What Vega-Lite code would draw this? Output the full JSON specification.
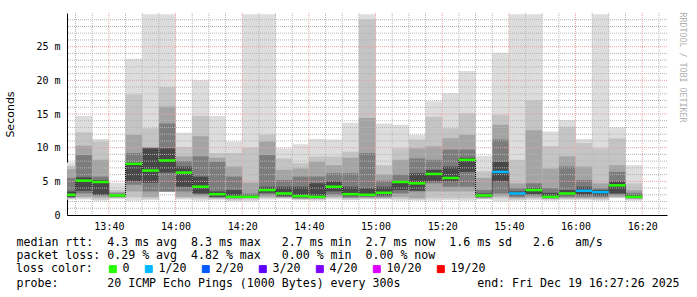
{
  "$schema": "https://vega.github.io/schema/vega-lite/v6.json",
  "width": 600,
  "height": 202,
  "autosize": {"type": "none"},
  "padding": {"left": 67, "top": 13, "right": 30, "bottom": 82},
  "background": "white",
  "config": {"view": {"stroke": null}},
  "title": {"text": "RRDTOOL / TOBI OETIKER", "orient": "right", "anchor": "start", "font": "DejaVu Sans Mono", "fontSize": 8.3, "fontWeight": "normal", "color": "#b0b0b0", "offset": 0},
  "datasets": {
    "smoke": [
      {"t": "2025-12-19T13:27:26", "e": "2025-12-19T13:30:00", "mn": 2.3, "mx": 7.8, "a1": 2.4, "b1": 7.3, "a2": 2.5, "b2": 6.8, "a3": 2.6, "b3": 5.5, "a4": 2.7, "b4": 3.5, "md": 3.0, "loss": "0"},
      {"t": "2025-12-19T13:30:00", "e": "2025-12-19T13:35:00", "mn": 2.3, "mx": 14.7, "a1": 2.5, "b1": 12.3, "a2": 2.7, "b2": 10.3, "a3": 3.2, "b3": 8.9, "a4": 3.6, "b4": 5.6, "md": 5.1, "loss": "0"},
      {"t": "2025-12-19T13:35:00", "e": "2025-12-19T13:40:00", "mn": 2.1, "mx": 11.3, "a1": 2.3, "b1": 10.9, "a2": 2.6, "b2": 8.2, "a3": 2.9, "b3": 5.7, "a4": 3.0, "b4": 5.2, "md": 4.9, "loss": "0"},
      {"t": "2025-12-19T13:40:00", "e": "2025-12-19T13:45:00", "mn": 2.4, "mx": 4.8, "a1": 2.5, "b1": 3.7, "a2": 2.6, "b2": 3.4, "a3": 2.7, "b3": 3.2, "a4": 2.75, "b4": 3.0, "md": 2.9, "loss": "0"},
      {"t": "2025-12-19T13:45:00", "e": "2025-12-19T13:50:00", "mn": 2.1, "mx": 23.2, "a1": 2.6, "b1": 17.9, "a2": 3.5, "b2": 11.9, "a3": 4.5, "b3": 9.2, "a4": 5.0, "b4": 7.8, "md": 7.6, "loss": "0"},
      {"t": "2025-12-19T13:50:00", "e": "2025-12-19T13:55:00", "mn": 2.2, "mx": 29.8, "a1": 2.4, "b1": 12.9, "a2": 2.7, "b2": 10.1, "a3": 3.5, "b3": 10.0, "a4": 4.8, "b4": 9.9, "md": 6.6, "loss": "0"},
      {"t": "2025-12-19T13:55:00", "e": "2025-12-19T14:00:00", "mn": 3.4, "mx": 29.8, "a1": 3.4, "b1": 19.0, "a2": 3.5, "b2": 16.1, "a3": 3.5, "b3": 13.6, "a4": 6.3, "b4": 9.9, "md": 8.1, "loss": "0"},
      {"t": "2025-12-19T14:00:00", "e": "2025-12-19T14:05:00", "mn": 2.3, "mx": 12.2, "a1": 2.5, "b1": 10.1, "a2": 2.7, "b2": 8.7, "a3": 3.5, "b3": 8.0, "a4": 4.2, "b4": 7.2, "md": 6.3, "loss": "0"},
      {"t": "2025-12-19T14:05:00", "e": "2025-12-19T14:10:00", "mn": 2.1, "mx": 20.0, "a1": 2.4, "b1": 14.7, "a2": 2.7, "b2": 11.7, "a3": 3.0, "b3": 8.7, "a4": 3.2, "b4": 5.7, "md": 4.2, "loss": "0"},
      {"t": "2025-12-19T14:10:00", "e": "2025-12-19T14:15:00", "mn": 2.2, "mx": 14.7, "a1": 2.4, "b1": 9.2, "a2": 2.5, "b2": 8.5, "a3": 2.6, "b3": 7.9, "a4": 2.7, "b4": 3.5, "md": 3.1, "loss": "0"},
      {"t": "2025-12-19T14:15:00", "e": "2025-12-19T14:20:00", "mn": 2.0, "mx": 10.9, "a1": 2.2, "b1": 9.2, "a2": 2.4, "b2": 7.2, "a3": 2.5, "b3": 5.7, "a4": 2.6, "b4": 3.7, "md": 2.7, "loss": "0"},
      {"t": "2025-12-19T14:20:00", "e": "2025-12-19T14:25:00", "mn": 2.0, "mx": 29.8, "a1": 2.3, "b1": 10.0, "a2": 2.5, "b2": 4.8, "a3": 2.6, "b3": 3.2, "a4": 2.65, "b4": 2.9, "md": 2.7, "loss": "0"},
      {"t": "2025-12-19T14:25:00", "e": "2025-12-19T14:30:00", "mn": 2.3, "mx": 29.8, "a1": 2.5, "b1": 11.9, "a2": 2.7, "b2": 10.9, "a3": 3.0, "b3": 8.9, "a4": 3.3, "b4": 4.2, "md": 3.7, "loss": "0"},
      {"t": "2025-12-19T14:30:00", "e": "2025-12-19T14:35:00", "mn": 2.4, "mx": 9.9, "a1": 2.5, "b1": 8.4, "a2": 2.6, "b2": 6.7, "a3": 2.7, "b3": 5.2, "a4": 2.8, "b4": 4.2, "md": 3.2, "loss": "0"},
      {"t": "2025-12-19T14:35:00", "e": "2025-12-19T14:40:00", "mn": 2.2, "mx": 10.5, "a1": 2.3, "b1": 7.7, "a2": 2.4, "b2": 6.9, "a3": 2.5, "b3": 5.7, "a4": 2.6, "b4": 4.2, "md": 2.8, "loss": "0"},
      {"t": "2025-12-19T14:40:00", "e": "2025-12-19T14:45:00", "mn": 2.1, "mx": 11.3, "a1": 2.3, "b1": 8.7, "a2": 2.4, "b2": 7.9, "a3": 2.5, "b3": 5.7, "a4": 2.6, "b4": 4.7, "md": 2.7, "loss": "0"},
      {"t": "2025-12-19T14:45:00", "e": "2025-12-19T14:50:00", "mn": 2.3, "mx": 11.2, "a1": 2.5, "b1": 8.7, "a2": 2.7, "b2": 7.4, "a3": 3.0, "b3": 6.2, "a4": 3.5, "b4": 5.0, "md": 4.2, "loss": "0"},
      {"t": "2025-12-19T14:50:00", "e": "2025-12-19T14:55:00", "mn": 2.2, "mx": 13.7, "a1": 2.3, "b1": 9.4, "a2": 2.5, "b2": 8.5, "a3": 2.6, "b3": 6.2, "a4": 2.8, "b4": 4.2, "md": 3.1, "loss": "0"},
      {"t": "2025-12-19T14:55:00", "e": "2025-12-19T15:00:00", "mn": 2.3, "mx": 29.8, "a1": 2.4, "b1": 29.0, "a2": 2.5, "b2": 14.4, "a3": 2.7, "b3": 9.2, "a4": 2.8, "b4": 4.0, "md": 3.0, "loss": "0"},
      {"t": "2025-12-19T15:00:00", "e": "2025-12-19T15:05:00", "mn": 2.3, "mx": 13.6, "a1": 2.4, "b1": 7.4, "a2": 2.5, "b2": 6.0, "a3": 2.7, "b3": 5.1, "a4": 2.9, "b4": 4.2, "md": 3.3, "loss": "0"},
      {"t": "2025-12-19T15:05:00", "e": "2025-12-19T15:10:00", "mn": 2.1, "mx": 13.4, "a1": 2.4, "b1": 9.9, "a2": 2.7, "b2": 8.2, "a3": 3.2, "b3": 6.0, "a4": 3.7, "b4": 5.0, "md": 4.9, "loss": "0"},
      {"t": "2025-12-19T15:10:00", "e": "2025-12-19T15:15:00", "mn": 2.1, "mx": 11.9, "a1": 2.3, "b1": 11.2, "a2": 2.5, "b2": 9.9, "a3": 3.5, "b3": 8.4, "a4": 3.6, "b4": 6.2, "md": 4.7, "loss": "0"},
      {"t": "2025-12-19T15:15:00", "e": "2025-12-19T15:20:00", "mn": 2.1, "mx": 16.9, "a1": 2.5, "b1": 14.6, "a2": 3.5, "b2": 10.2, "a3": 4.7, "b3": 8.2, "a4": 5.0, "b4": 6.7, "md": 6.1, "loss": "0"},
      {"t": "2025-12-19T15:20:00", "e": "2025-12-19T15:25:00", "mn": 2.2, "mx": 18.1, "a1": 2.5, "b1": 12.9, "a2": 3.5, "b2": 11.4, "a3": 4.2, "b3": 9.7, "a4": 5.0, "b4": 7.2, "md": 5.5, "loss": "0"},
      {"t": "2025-12-19T15:25:00", "e": "2025-12-19T15:30:00", "mn": 2.1, "mx": 21.4, "a1": 2.5, "b1": 15.1, "a2": 3.5, "b2": 11.9, "a3": 4.2, "b3": 9.7, "a4": 6.4, "b4": 8.5, "md": 8.2, "loss": "0"},
      {"t": "2025-12-19T15:30:00", "e": "2025-12-19T15:35:00", "mn": 2.3, "mx": 8.8, "a1": 2.4, "b1": 6.5, "a2": 2.5, "b2": 5.5, "a3": 2.6, "b3": 3.7, "a4": 2.7, "b4": 3.2, "md": 2.9, "loss": "0"},
      {"t": "2025-12-19T15:35:00", "e": "2025-12-19T15:40:00", "mn": 2.0, "mx": 24.1, "a1": 2.5, "b1": 14.9, "a2": 2.8, "b2": 13.4, "a3": 3.2, "b3": 11.2, "a4": 5.0, "b4": 7.9, "md": 6.4, "loss": "1/20"},
      {"t": "2025-12-19T15:40:00", "e": "2025-12-19T15:45:00", "mn": 2.1, "mx": 29.8, "a1": 2.3, "b1": 8.2, "a2": 2.5, "b2": 4.7, "a3": 2.7, "b3": 4.0, "a4": 2.9, "b4": 3.5, "md": 3.2, "loss": "1/20"},
      {"t": "2025-12-19T15:45:00", "e": "2025-12-19T15:50:00", "mn": 2.2, "mx": 29.8, "a1": 2.4, "b1": 17.0, "a2": 2.6, "b2": 12.6, "a3": 2.9, "b3": 4.7, "a4": 3.1, "b4": 4.0, "md": 3.7, "loss": "0"},
      {"t": "2025-12-19T15:50:00", "e": "2025-12-19T15:55:00", "mn": 2.1, "mx": 12.4, "a1": 2.3, "b1": 10.2, "a2": 2.4, "b2": 6.9, "a3": 2.5, "b3": 4.0, "a4": 2.6, "b4": 3.3, "md": 2.7, "loss": "0"},
      {"t": "2025-12-19T15:55:00", "e": "2025-12-19T16:00:00", "mn": 2.2, "mx": 14.1, "a1": 2.4, "b1": 13.1, "a2": 2.5, "b2": 8.7, "a3": 2.7, "b3": 7.2, "a4": 2.9, "b4": 3.7, "md": 3.2, "loss": "0"},
      {"t": "2025-12-19T16:00:00", "e": "2025-12-19T16:05:00", "mn": 2.2, "mx": 11.3, "a1": 2.4, "b1": 10.7, "a2": 2.5, "b2": 7.2, "a3": 2.7, "b3": 5.2, "a4": 3.0, "b4": 4.2, "md": 3.6, "loss": "1/20"},
      {"t": "2025-12-19T16:05:00", "e": "2025-12-19T16:10:00", "mn": 2.1, "mx": 29.8, "a1": 2.3, "b1": 9.9, "a2": 2.5, "b2": 4.7, "a3": 2.7, "b3": 4.0, "a4": 2.9, "b4": 3.7, "md": 3.4, "loss": "1/20"},
      {"t": "2025-12-19T16:10:00", "e": "2025-12-19T16:15:00", "mn": 2.5, "mx": 13.0, "a1": 2.6, "b1": 11.4, "a2": 2.7, "b2": 7.4, "a3": 3.0, "b3": 6.4, "a4": 3.2, "b4": 5.0, "md": 4.4, "loss": "0"},
      {"t": "2025-12-19T16:15:00", "e": "2025-12-19T16:20:00", "mn": 2.1, "mx": 7.4, "a1": 2.3, "b1": 4.7, "a2": 2.4, "b2": 3.7, "a3": 2.5, "b3": 3.3, "a4": 2.55, "b4": 3.0, "md": 2.7, "loss": "0"}
    ],
    "minorY": [{"g": 1}, {"g": 2}, {"g": 3}, {"g": 4}, {"g": 6}, {"g": 7}, {"g": 8}, {"g": 9}, {"g": 11}, {"g": 12}, {"g": 13}, {"g": 14}, {"g": 16}, {"g": 17}, {"g": 18}, {"g": 19}, {"g": 21}, {"g": 22}, {"g": 23}, {"g": 24}, {"g": 26}, {"g": 27}, {"g": 28}, {"g": 29}],
    "majorY": [{"g": 5}, {"g": 10}, {"g": 15}, {"g": 20}, {"g": 25}],
    "minorX": [{"g": "2025-12-19T13:30:00"}, {"g": "2025-12-19T13:35:00"}, {"g": "2025-12-19T13:45:00"}, {"g": "2025-12-19T13:50:00"}, {"g": "2025-12-19T13:55:00"}, {"g": "2025-12-19T14:05:00"}, {"g": "2025-12-19T14:10:00"}, {"g": "2025-12-19T14:15:00"}, {"g": "2025-12-19T14:25:00"}, {"g": "2025-12-19T14:30:00"}, {"g": "2025-12-19T14:35:00"}, {"g": "2025-12-19T14:45:00"}, {"g": "2025-12-19T14:50:00"}, {"g": "2025-12-19T14:55:00"}, {"g": "2025-12-19T15:05:00"}, {"g": "2025-12-19T15:10:00"}, {"g": "2025-12-19T15:15:00"}, {"g": "2025-12-19T15:25:00"}, {"g": "2025-12-19T15:30:00"}, {"g": "2025-12-19T15:35:00"}, {"g": "2025-12-19T15:45:00"}, {"g": "2025-12-19T15:50:00"}, {"g": "2025-12-19T15:55:00"}, {"g": "2025-12-19T16:05:00"}, {"g": "2025-12-19T16:10:00"}, {"g": "2025-12-19T16:15:00"}, {"g": "2025-12-19T16:25:00"}],
    "majorX": [{"g": "2025-12-19T13:40:00"}, {"g": "2025-12-19T14:00:00"}, {"g": "2025-12-19T14:20:00"}, {"g": "2025-12-19T14:40:00"}, {"g": "2025-12-19T15:00:00"}, {"g": "2025-12-19T15:20:00"}, {"g": "2025-12-19T15:40:00"}, {"g": "2025-12-19T16:00:00"}, {"g": "2025-12-19T16:20:00"}]
  },
  "layer": [
    {
      "data": {"name": "smoke"},
      "mark": {"type": "bar", "color": "#dddddd"},
      "encoding": {
        "x": {"field": "t", "type": "temporal", "scale": {"domain": [{"year": 2025, "month": 12, "date": 19, "hours": 13, "minutes": 27, "seconds": 26}, {"year": 2025, "month": 12, "date": 19, "hours": 16, "minutes": 27, "seconds": 26}]}, "axis": {"values": [{"year": 2025, "month": 12, "date": 19, "hours": 13, "minutes": 40}, {"year": 2025, "month": 12, "date": 19, "hours": 14, "minutes": 0}, {"year": 2025, "month": 12, "date": 19, "hours": 14, "minutes": 20}, {"year": 2025, "month": 12, "date": 19, "hours": 14, "minutes": 40}, {"year": 2025, "month": 12, "date": 19, "hours": 15, "minutes": 0}, {"year": 2025, "month": 12, "date": 19, "hours": 15, "minutes": 20}, {"year": 2025, "month": 12, "date": 19, "hours": 15, "minutes": 40}, {"year": 2025, "month": 12, "date": 19, "hours": 16, "minutes": 0}, {"year": 2025, "month": 12, "date": 19, "hours": 16, "minutes": 20}], "format": "%H:%M", "grid": false, "domainColor": "black", "ticks": false, "labelFont": "DejaVu Sans Mono", "labelFontSize": 10, "labelColor": "black", "labelPadding": 6, "labelFlush": false, "labelOverlap": false, "title": ["median rtt: \u00a04.3 ms avg \u00a08.3 ms max \u00a0\u00a02.7 ms min \u00a02.7 ms now \u00a01.6 ms sd \u00a0\u00a02.6 \u00a0\u00a0am/s", "packet loss: 0.29 % avg \u00a04.82 % max \u00a0\u00a00.00 % min \u00a00.00 % now", "\u200b", "probe: \u00a0\u00a0\u00a0\u00a0\u00a0\u00a020 ICMP Echo Pings (1000 Bytes) every 300s \u00a0\u00a0\u00a0\u00a0\u00a0\u00a0\u00a0\u00a0\u00a0\u00a0end: Fri Dec 19 16:27:26 2025"], "titleX": -51, "titleY": 30, "titleAlign": "left", "titleBaseline": "alphabetic", "titleFont": "DejaVu Sans Mono", "titleFontSize": 11.6, "titleFontWeight": "normal", "titleColor": "black", "titleLineHeight": 13.9}},
        "x2": {"field": "e"},
        "y": {"field": "mn", "type": "quantitative", "scale": {"domain": [0, 30], "nice": false}, "axis": {"values": [0, 5, 10, 15, 20, 25], "labelExpr": "datum.value == 0 ? '0' : datum.value + ' m'", "grid": false, "domainColor": "black", "ticks": false, "labelPadding": 7, "labelFont": "DejaVu Sans Mono", "labelFontSize": 10, "labelColor": "black", "title": "Seconds", "titleFont": "DejaVu Sans", "titleFontSize": 11, "titleFontWeight": "normal", "titleColor": "black", "titleX": -57, "titleY": 101, "titleBaseline": "middle", "titleAlign": "center", "titleAngle": -90}},
        "y2": {"field": "mx"}
      }
    },
    {
      "data": {"name": "smoke"},
      "mark": {"type": "bar", "color": "#c4c4c4"},
      "encoding": {
        "x": {"field": "t", "type": "temporal"},
        "x2": {"field": "e"},
        "y": {"field": "a1", "type": "quantitative"},
        "y2": {"field": "b1"}
      }
    },
    {
      "data": {"name": "smoke"},
      "mark": {"type": "bar", "color": "#a4a4a4"},
      "encoding": {
        "x": {"field": "t", "type": "temporal"},
        "x2": {"field": "e"},
        "y": {"field": "a2", "type": "quantitative"},
        "y2": {"field": "b2"}
      }
    },
    {
      "data": {"name": "smoke"},
      "mark": {"type": "bar", "color": "#7c7c7c"},
      "encoding": {
        "x": {"field": "t", "type": "temporal"},
        "x2": {"field": "e"},
        "y": {"field": "a3", "type": "quantitative"},
        "y2": {"field": "b3"}
      }
    },
    {
      "data": {"name": "smoke"},
      "mark": {"type": "bar", "color": "#484848"},
      "encoding": {
        "x": {"field": "t", "type": "temporal"},
        "x2": {"field": "e"},
        "y": {"field": "a4", "type": "quantitative"},
        "y2": {"field": "b4"}
      }
    },
    {
      "data": {"name": "minorY"},
      "mark": {"type": "rule", "color": "#b4b4b4", "strokeWidth": 1, "strokeDash": [1, 1]},
      "encoding": {"y": {"field": "g", "type": "quantitative"}}
    },
    {
      "data": {"name": "minorX"},
      "mark": {"type": "rule", "color": "#b4b4b4", "strokeWidth": 1, "strokeDash": [1, 1]},
      "encoding": {"x": {"field": "g", "type": "temporal"}}
    },
    {
      "data": {"name": "majorY"},
      "mark": {"type": "rule", "color": "#e8a0a0", "strokeWidth": 1, "strokeDash": [1, 1]},
      "encoding": {"y": {"field": "g", "type": "quantitative"}}
    },
    {
      "data": {"name": "majorX"},
      "mark": {"type": "rule", "color": "#e8a0a0", "strokeWidth": 1, "strokeDash": [1, 1]},
      "encoding": {"x": {"field": "g", "type": "temporal"}}
    },
    {
      "data": {"name": "smoke"},
      "mark": {"type": "line", "interpolate": "step-after", "color": "black", "strokeWidth": 1, "strokeDash": [1, 1]},
      "encoding": {
        "x": {"field": "t", "type": "temporal"},
        "y": {"field": "md", "type": "quantitative"}
      }
    },
    {
      "data": {"name": "smoke"},
      "mark": {"type": "rule", "strokeWidth": 2.5},
      "encoding": {
        "x": {"field": "t", "type": "temporal"},
        "x2": {"field": "e"},
        "y": {"field": "md", "type": "quantitative"},
        "color": {"field": "loss", "type": "nominal", "scale": {"domain": ["0", "1/20", "2/20", "3/20", "4/20", "10/20", "19/20"], "range": ["#26ff00", "#00b8ff", "#0059ff", "#5e00ff", "#7e00ff", "#dd00ff", "#ff0000"]}, "legend": {"title": "loss color:", "orient": "none", "legendX": -51, "legendY": 250, "direction": "horizontal", "titleOrient": "left", "titleFont": "DejaVu Sans Mono", "titleFontSize": 11.6, "titleFontWeight": "normal", "titleColor": "black", "titlePadding": 14, "labelFont": "DejaVu Sans Mono", "labelFontSize": 11.6, "labelColor": "black", "labelOffset": 4, "columnPadding": 13, "symbolType": "square", "symbolSize": 49, "symbolStrokeWidth": 1, "symbolStrokeColor": "black", "padding": 0, "encode": {"symbols": {"update": {"fill": {"scale": "color", "field": "value"}, "stroke": {"value": "black"}, "strokeWidth": {"value": 1}, "opacity": {"value": 1}}}}}}
      }
    }
  ]
}
